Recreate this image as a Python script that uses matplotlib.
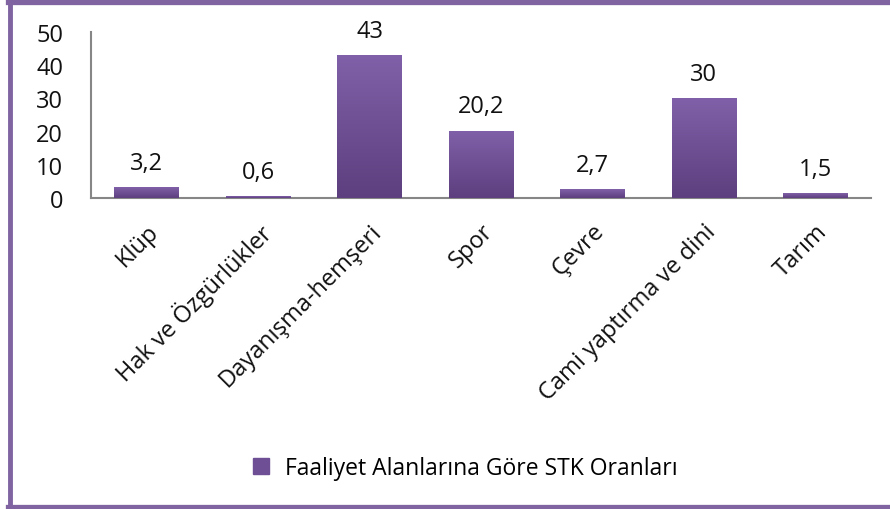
import numpy as np
import matplotlib.pyplot as plt
from matplotlib import rcParams
from matplotlib.colors import LinearSegmentedColormap
from matplotlib.lines import Line2D

rcParams["font.family"] = ["Open Sans", "DejaVu Sans"]

categories = ["Klüp", "Hak ve Özgürlükler", "Dayanışma-hemşeri", "Spor",
              "Çevre", "Cami yaptırma ve dini", "Tarım"]
values = [3.2, 0.6, 43, 20.2, 2.7, 30, 1.5]
value_labels = ["3,2", "0,6", "43", "20,2", "2,7", "30", "1,5"]
yticks = [0, 10, 20, 30, 40, 50]
series_name = "Faaliyet Alanlarına Göre STK Oranları"

W, H = 890, 510
fig = plt.figure(figsize=(W / 100, H / 100), dpi=100)
ax = fig.add_axes([91 / W, 1 - 199 / H, 780 / W, 166 / H])

x = np.arange(len(categories))
bars = ax.bar(x, values, width=0.58, color="#6E4F96", zorder=2)

# vertical gradient inside each bar
cmap = LinearSegmentedColormap.from_list("purp", ["#5D3F7F", "#8060A8"])
grad = np.linspace(0, 1, 256).reshape(-1, 1)
for b in bars:
    bx, by = b.get_x(), b.get_y()
    im = ax.imshow(grad, cmap=cmap, origin="lower", aspect="auto",
                   extent=[bx, bx + b.get_width(), by, by + b.get_height()],
                   zorder=3)
    im.set_clip_path(b)

fs = 17
for xi, v, lab in zip(x, values, value_labels):
    ax.annotate(lab, (xi, v), xytext=(0, 9), textcoords="offset points",
                ha="center", va="bottom", fontsize=fs, color="#111111")

ax.set_xlim(-0.5, len(categories) - 0.5)
ax.set_ylim(0, 50)
ax.set_yticks(yticks)
ax.set_yticklabels([str(t) for t in yticks], fontsize=fs)
ax.set_xticks(x)
ax.set_xticklabels(categories, rotation=45, ha="right", va="top",
                   rotation_mode="anchor", fontsize=fs)
ax.tick_params(axis="both", length=0, colors="#111111")
ax.tick_params(axis="y", pad=20)
ax.tick_params(axis="x", pad=15)
for s in ["top", "right"]:
    ax.spines[s].set_visible(False)
for s in ["left", "bottom"]:
    ax.spines[s].set_color("#868686")
    ax.spines[s].set_linewidth(1.5)

handle = Line2D([], [], marker="s", linestyle="none", markersize=11,
                markerfacecolor="#6E4F96", markeredgecolor="#6E4F96")
fig.legend([handle], [series_name], loc="center",
           bbox_to_anchor=(458 / W, 1 - 469 / H), frameon=False,
           fontsize=16.5, handletextpad=0.05)

# purple frame around the chart
frame = "#8064A2"
fig.add_artist(Line2D([10 / W, 10 / W], [0, 1], color=frame, lw=3.5,
                      transform=fig.transFigure))
fig.add_artist(Line2D([8 / W, 1], [1 - 2.5 / H, 1 - 2.5 / H], color=frame,
                      lw=3.8, transform=fig.transFigure))
fig.add_artist(Line2D([8 / W, 1], [2.5 / H, 2.5 / H], color=frame, lw=3.8,
                      transform=fig.transFigure))

fig.savefig("out.png", dpi=100)
